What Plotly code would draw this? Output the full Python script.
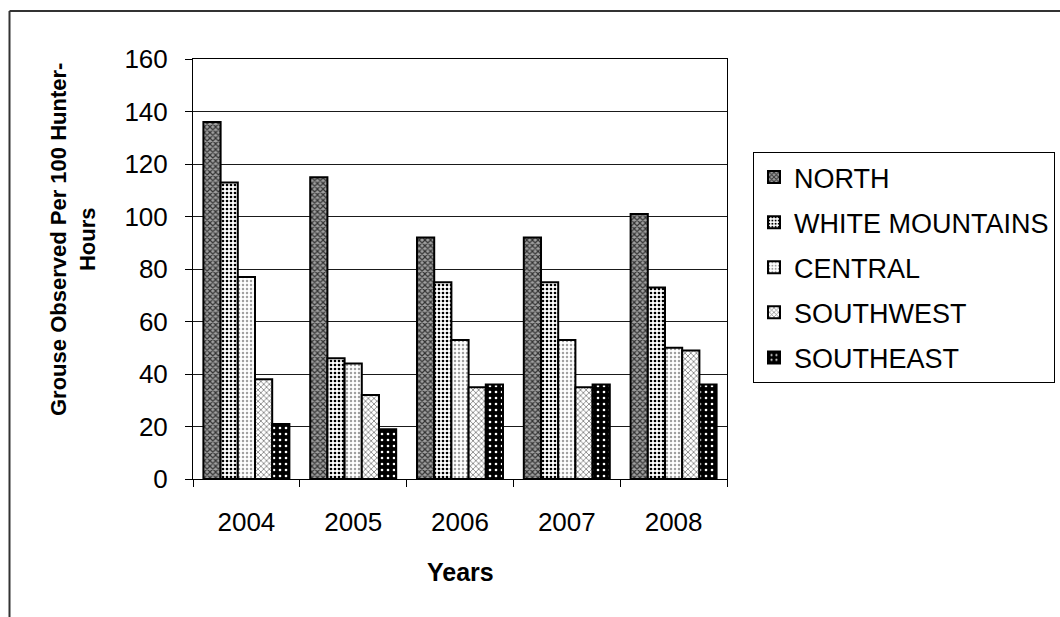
import plotly.graph_objects as go

# Grouse flush rates by region, 2004-2008
years = ["2004", "2005", "2006", "2007", "2008"]
regions = ["NORTH", "WHITE MOUNTAINS", "CENTRAL", "SOUTHWEST", "SOUTHEAST"]
north = [136, 115, 92, 92, 101]
white_mountains = [113, 46, 75, 75, 73]
central = [77, 44, 53, 53, 50]
southwest = [38, 32, 35, 35, 49]
southeast = [21, 19, 36, 36, 36]
y_ticks = [0, 20, 40, 60, 80, 100, 120, 140, 160]

series = [north, white_mountains, central, southwest, southeast]

# monochrome fill patterns, one per region
patterns = [
    dict(shape="x", fgcolor="#333333", bgcolor="#a0a0a0", size=4, solidity=0.5, fillmode="replace"),
    dict(shape=".", fgcolor="#000000", bgcolor="#ffffff", size=4, solidity=0.35, fillmode="replace"),
    dict(shape=".", fgcolor="#a0a0a0", bgcolor="#ffffff", size=4, solidity=0.3, fillmode="replace"),
    dict(shape="x", fgcolor="#888888", bgcolor="#ffffff", size=4, solidity=0.4, fillmode="replace"),
    dict(shape=".", fgcolor="#ffffff", bgcolor="#000000", size=6, solidity=0.15, fillmode="replace"),
]

FONT = "Liberation Sans, Arial, sans-serif"

fig = go.Figure()
for name, vals, pat in zip(regions, series, patterns):
    fig.add_trace(go.Bar(
        name=name, x=years, y=vals,
        legendgroup=name,
        marker=dict(color=pat["bgcolor"], pattern=pat,
                    line=dict(color="#000000", width=2)),
    ))

# plot area geometry in pixels
L, R, T, B = 193, 727, 59, 479
W, H = 1060, 617


def px(xp):
    return (xp - L) / (R - L)


def py(yp):
    return (B - yp) / (B - T)


fig.update_layout(
    width=W, height=H,
    margin=dict(l=L, r=W - R, t=T, b=H - B, pad=0, autoexpand=False),
    paper_bgcolor="white", plot_bgcolor="white",
    barmode="group", bargap=0.195, bargroupgap=0,
    font=dict(family=FONT, size=26, color="#000000"),
    showlegend=True,
    legend=dict(
        x=px(753), y=py(152), xanchor="left", yanchor="top",
        bordercolor="#000000", borderwidth=1,
        font=dict(family=FONT, size=27, color="#000000"),
        tracegroupgap=7, itemwidth=30,
    ),
    xaxis=dict(
        type="category", categoryarray=years,
        tickson="boundaries", ticks="outside", ticklen=7, tickwidth=1,
        tickcolor="#000000", showline=True, linecolor="#000000",
        linewidth=1, mirror=True, showgrid=False,
        tickfont=dict(size=26), ticklabelstandoff=20,
        fixedrange=True,
    ),
    yaxis=dict(
        range=[0, 160], tickvals=y_ticks,
        ticks="outside", ticklen=7, tickwidth=1, tickcolor="#000000",
        showline=True, linecolor="#000000", linewidth=1, mirror=True,
        showgrid=True, gridcolor="#1a1a1a", gridwidth=1,
        zeroline=False, tickfont=dict(size=26), ticklabelstandoff=12,
        fixedrange=True,
    ),
    annotations=[
        dict(text="<b>Grouse Observed Per 100 Hunter-<br>Hours</b>",
             xref="paper", yref="paper", x=px(73), y=py(240),
             xanchor="center", yanchor="middle", textangle=-90,
             showarrow=False, font=dict(family=FONT, size=22)),
        dict(text="<b>Years</b>",
             xref="paper", yref="paper", x=px(460), y=py(572),
             xanchor="center", yanchor="middle",
             showarrow=False, font=dict(family=FONT, size=25)),
    ],
    shapes=[
        # outer chart border (left and top edges)
        dict(type="line", xref="paper", yref="paper",
             x0=px(9.5), x1=px(9.5), y0=py(11), y1=py(640),
             line=dict(color="#333333", width=2)),
        dict(type="line", xref="paper", yref="paper",
             x0=px(9.5), x1=px(1080), y0=py(11), y1=py(11),
             line=dict(color="#333333", width=2)),
    ],
)

fig.write_html("out.html")
